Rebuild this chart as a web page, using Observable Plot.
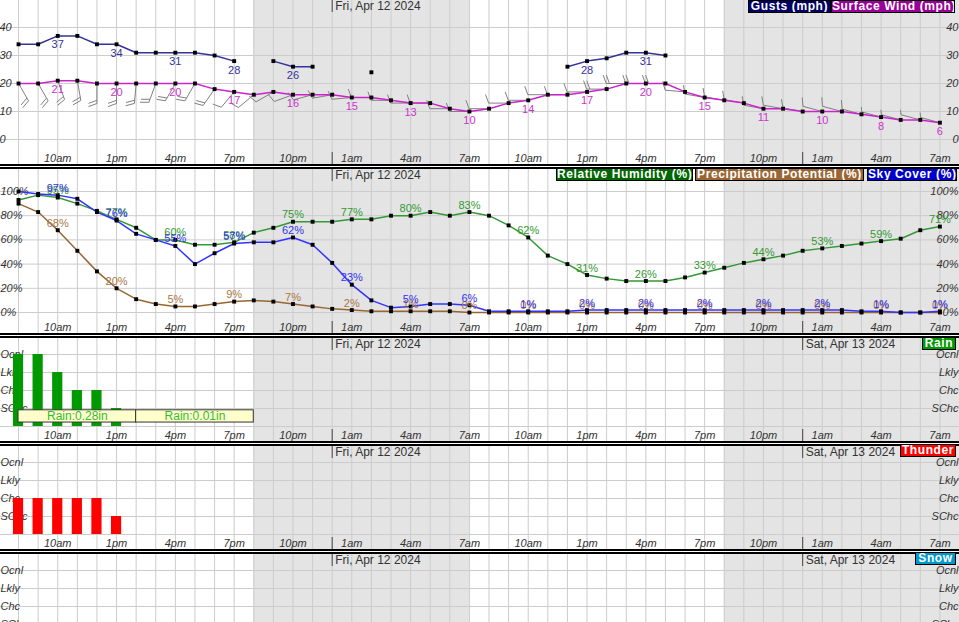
<!DOCTYPE html>
<html><head><meta charset="utf-8">
<script src="https://cdn.jsdelivr.net/npm/d3@7"></script>
<script src="https://cdn.jsdelivr.net/npm/@observablehq/plot@0.6"></script>
<style>
body{margin:0;background:#fff;}
#chart{position:relative;width:959px;height:622px;overflow:hidden;font-family:"Liberation Sans",Arial,sans-serif;}
.panel{border-bottom:2px solid #000;margin-bottom:1px;}
.panel+.panel{border-top:2px solid #000;}
.panel svg{display:block;}
.leg{position:absolute;z-index:5;box-sizing:border-box;border:1px solid #000;color:#fff;font:bold 12px "Liberation Sans",Arial,sans-serif;letter-spacing:0.6px;text-align:center;line-height:11px;white-space:nowrap;overflow:hidden;}
</style></head>
<body>
<div id="chart"></div>
<script>
// ---------- data ----------
const hours = d3.range(48); // hourly index, 0 = 8am Thu Apr 11
const tickHours = [2,5,8,11,14,17,20,23,26,29,32,35,38,41,44,47];
const tickLabels = ["10am","1pm","4pm","7pm","10pm","1am","4am","7am","10am","1pm","4pm","7pm","10pm","1am","4am","7am"];
const nightStart = [12, 36];
const nightEnd = [23, 48.5];
const midnights = [16, 40];
const dateLabels = ["Fri, Apr 12 2024", "Sat, Apr 13 2024"];

const gust = [34,34,37,37,34,34,31,31,31,31,30,28,null,28,26,26,null,null,24,null,null,null,null,null,
              null,null,null,null,26,28,29,31,31,30,null,null,null,null,null,null,null,null,null,null,null,null,null,null];
const wind = [20,20,21,21,20,20,20,20,20,20,18,17,16,17,16,16,16,15,15,14,13,13,11,10,
              11,13,14,16,16,17,18,20,20,20,17,15,14,13,11,11,10,10,10,9,8,7,7,6];
const windDir = [150,150,160,170,180,180,185,200,210,210,215,220,230,240,250,255,260,265,270,270,270,270,270,270,
                 270,270,270,270,270,270,270,270,270,270,275,280,280,280,280,280,280,285,285,285,285,285,285,285];

const rh  = [93,97,95,90,84,77,70,60,60,56,56,58,66,70,75,75,75,77,77,80,80,83,80,83,
             80,72,62,47,40,31,28,26,26,26,29,33,37,41,44,47,51,53,55,57,59,61,68,71];
const pop = [90,83,68,51,34,20,11,7,5,5,7,9,10,9,7,5,3,2,1,1,1,1,1,0,
             0,0,0,0,0,0,0,0,0,0,0,0,0,0,0,0,0,0,0,0,0,0,0,0];
const sky = [100,98,97,94,83,76,65,60,55,40,49,57,58,58,62,56,41,23,10,4,5,7,7,6,
             1,1,1,1,1,2,2,2,2,2,2,2,2,2,2,2,2,2,2,1,1,0,0,1];

const levelNames = ["","SChc","Chc","Lkly","Ocnl"];
const rainHours = [0,1,2,3,4,5];
const rainLevel = [4,4,3,2,2,1];
const thunderHours = [0,1,2,3,4,5];
const thunderLevel = [2,2,2,2,2,1];
const qpfStart = [0,6];
const qpfEnd = [6,12];
const qpfText = ["Rain:0.28in","Rain:0.01in"];

// ---------- layout ----------
const W = 959, X0 = -0.92, X1 = 48.0;
const FONT = '"Liberation Sans", Arial, Helvetica, sans-serif';
const GRID = "#cccccc";

function panel({h, yDomain, yRange, yTicks, yFmt, leftDx = 0, dates = 2, xLabels = true, marks}) {
  const ys = d3.scaleLinear(yDomain, yRange);
  const top = ys.invert(0), bot = ys.invert(h);
  const nights = nightStart.map((s, k) => ({s, e: nightEnd[k]}));
  const shownDates = midnights.slice(0, dates);
  const base = [
    Plot.rect(nights, {x1: "s", x2: "e", y1: bot, y2: top, fill: "#e4e4e4"}),
    Plot.ruleX(d3.range(0, 49), {stroke: GRID}),
    Plot.ruleY(yTicks, {stroke: GRID}),
    ...(xLabels ? [
      Plot.text(tickHours, {x: d => d, text: (d, i) => tickLabels[i], frameAnchor: "bottom", lineAnchor: "middle", dy: -6,
        fontStyle: "italic", fill: "#333", fontSize: 11}),
      Plot.ruleX(midnights, {y1: ys.invert(h - 12), y2: bot, stroke: "#444"})
    ] : []),
    Plot.ruleX(midnights, {y1: top, y2: ys.invert(12), stroke: "#444"}),
    Plot.text(shownDates, {x: d => d, text: (d, i) => dateLabels[i], frameAnchor: "top", lineAnchor: "middle", dy: 6, dx: 3,
      textAnchor: "start", fill: "#333", fontSize: 12}),
    Plot.text(yTicks, {y: d => d, text: yFmt, frameAnchor: "left", textAnchor: "start", dx: leftDx,
      fontStyle: "italic", fill: "#333", fontSize: 11}),
    Plot.text(yTicks, {y: d => d, text: yFmt, frameAnchor: "right", textAnchor: "end", dx: -1,
      fontStyle: "italic", fill: "#333", fontSize: 11})
  ];
  return Plot.plot({
    width: W, height: h, margin: 0,
    x: {domain: [X0, X1], range: [0, W], axis: null},
    y: {domain: yDomain, range: yRange, axis: null},
    style: {fontFamily: FONT, fontSize: "11px", overflow: "hidden", background: "transparent"},
    marks: [...base, ...(typeof marks === "function" ? marks(ys) : marks)]
  });
}

// wind barbs computed from direction & speed through the scales
function barbSegments(ys) {
  const kx = W / (X1 - X0);
  const ky = Math.abs(ys(1) - ys(0));
  const segs = [];
  const L = 20;
  hours.forEach(i => {
    const s = wind[i], th = windDir[i] * Math.PI / 180;
    const tdx = Math.sin(th), tdy = -Math.cos(th);         // staff direction (px)
    const pdx = Math.cos(th), pdy = Math.sin(th);          // feather side
    const bx = pdx * 0.94 + tdx * 0.34, by = pdy * 0.94 + tdy * 0.34;
    const toData = (ox, oy) => [i + ox / kx, s - oy / ky];
    const tip = [tdx * L, tdy * L];
    const push = (a, b) => {
      const p = toData(a[0], a[1]), q = toData(b[0], b[1]);
      segs.push({x1: p[0], y1: p[1], x2: q[0], y2: q[1]});
    };
    push([0, 0], tip);
    const feathers = s >= 18 ? [9, 9] : s >= 9 ? [9] : [5];
    feathers.forEach((len, k) => {
      const st = [tip[0] - tdx * 3.2 * k, tip[1] - tdy * 3.2 * k];
      push(st, [st[0] + bx * len, st[1] + by * len]);
    });
  });
  return segs;
}

const chart = document.getElementById("chart");
function addPanel(svg) {
  const d = document.createElement("div");
  d.className = "panel";
  d.appendChild(svg);
  chart.appendChild(d);
}

// Panel 1 : wind
const labelHours = h => tickHours.includes(h);
addPanel(panel({
  h: 164, yDomain: [0, 40], yRange: [139, 27], yTicks: [0, 10, 20, 30, 40], yFmt: d => String(d), dates: 1, leftDx: -1,
  marks: ys => [
    Plot.link(barbSegments(ys), {x1: "x1", y1: "y1", x2: "x2", y2: "y2", stroke: "#808080", strokeWidth: 1}),
    Plot.line(hours, {x: d => d, y: i => wind[i], stroke: "#cc22cc", strokeWidth: 1.5}),
    Plot.line(hours, {x: d => d, y: i => gust[i], stroke: "#333399", strokeWidth: 1.5}),
    Plot.dot(hours, {x: d => d, y: i => wind[i], symbol: "square", r: 2.2, fill: "#000"}),
    Plot.dot(hours.filter(i => gust[i] != null), {x: d => d, y: i => gust[i], symbol: "square", r: 2.2, fill: "#000"}),
    Plot.text(hours.filter(i => labelHours(i) && gust[i] != null), {x: d => d, y: i => gust[i], text: i => String(gust[i]),
      dy: 9, fill: "#333399", fontSize: 11}),
    Plot.text(hours.filter(labelHours), {x: d => d, y: i => wind[i], text: i => String(wind[i]),
      dy: 9, fill: "#cc33cc", fontSize: 11})
  ]
}));

// Panel 2 : humidity / precip potential / sky cover
const series2 = [[pop, "#996633", "#aa7744"], [rh, "#339933", "#339933"], [sky, "#3333ff", "#3333ee"]];
addPanel(panel({
  h: 164, yDomain: [0, 100], yRange: [143, 22], yTicks: [0, 20, 40, 60, 80, 100], yFmt: d => d + "%", dates: 1, leftDx: 0,
  marks: series2.map(([arr, col]) =>
    Plot.line(hours, {x: d => d, y: i => arr[i], stroke: col, strokeWidth: 1.5})
  ).concat(series2.map(([arr]) =>
    Plot.dot(hours, {x: d => d, y: i => arr[i], symbol: "square", r: 2.2, fill: "#000"})
  )).concat(series2.map(([arr, col, tcol]) =>
    Plot.text(hours.filter(labelHours), {x: d => d, y: i => arr[i], text: i => arr[i] + "%", dy: -7, fill: tcol, fontSize: 11})
  ))
}));

// Panel 3 : rain
const lvl = {h: 103, yDomain: [0, 4], yRange: [88, 16], yTicks: [0, 1, 2, 3, 4], yFmt: d => levelNames[d], leftDx: 0};
addPanel(panel({...lvl, marks: [
  Plot.rect(rainHours, {x1: d => d - 0.26, x2: d => d + 0.26, y1: 0, y2: (d, i) => rainLevel[i], fill: "#009900"}),
  Plot.rect(qpfStart, {x1: d => d, x2: (d, i) => qpfEnd[i], y1: 0.22, y2: 0.9, fill: "#ffffcc", stroke: "#333"}),
  Plot.text(qpfStart, {x: (d, i) => (d + qpfEnd[i]) / 2, y: 0.56, text: (d, i) => qpfText[i], fill: "#33bb33", fontSize: 12})
]}));

// Panel 4 : thunder
addPanel(panel({...lvl, marks: [
  Plot.rect(thunderHours, {x1: d => d - 0.26, x2: d => d + 0.26, y1: 0, y2: (d, i) => thunderLevel[i], fill: "#ff0000"})
]}));

// Panel 5 : snow (cut off by the picture's bottom edge)
addPanel(panel({...lvl, h: 68, yTicks: [1, 2, 3, 4], xLabels: false, marks: []}));

// legends
const legends = [
  ["Gusts (mph)", 748, 0, 83, "#000066"],
  ["Surface Wind (mph)", 831, 0, 124, "#990099"],
  ["Relative Humidity (%)", 556, 168, 137, "#006600"],
  ["Precipitation Potential (%)", 695, 168, 169, "#996633"],
  ["Sky Cover (%)", 867, 168, 90, "#0000cc"],
  ["Rain", 922, 337, 34, "#009900"],
  ["Thunder", 900, 444, 56, "#ff0000"],
  ["Snow", 915, 552, 41, "#0099cc"]
];
legends.forEach(([t, l, tp, w, bg]) => {
  const d = document.createElement("div");
  d.className = "leg";
  d.textContent = t;
  Object.assign(d.style, {left: l + "px", top: tp + "px", width: w + "px", height: "13px", background: bg});
  chart.appendChild(d);
});
</script>
</body></html>
